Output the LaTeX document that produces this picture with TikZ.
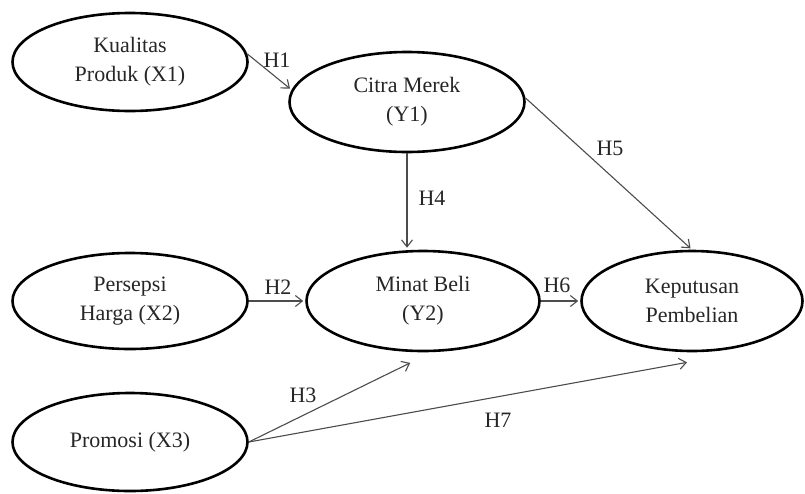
\documentclass[tikz,border=0pt]{standalone}
\usepackage{fontspec}
\setmainfont{Liberation Serif}
\usetikzlibrary{shapes.geometric,arrows.meta}
\begin{document}
\begin{tikzpicture}[x=1pt,y=-1pt,
  var/.style={ellipse, draw=black, line width=2.6pt, minimum width=235pt, minimum height=98pt,
    inner sep=0pt, align=center, font=\fontsize{22}{29}\selectfont, text=black!85},
  conn/.style={draw=black!70, line width=1.1pt, shorten >=2pt, -{Straight Barb[length=7pt,width=11pt]}},
  lbl/.style={font=\fontsize{22}{24}\selectfont, text=black!85, inner sep=0pt}]
\useasboundingbox (0,0) rectangle (805,493);
\node[var] (X1) at (130,62) {Kualitas\\Produk (X1)};
\node[var, minimum height=100pt] (Y1) at (407,102) {Citra Merek\\(Y1)};
\node[var, minimum height=96pt] (X2) at (130,301) {Persepsi\\Harga (X2)};
\node[var, minimum width=233pt, minimum height=100pt] (Y2) at (423,301) {Minat Beli\\(Y2)};
\node[var, minimum width=221pt, minimum height=100pt] (Z) at (692,301) {Keputusan\\Pembelian};
\node[var] (X3) at (130,442) {Promosi (X3)};
\coordinate (h3end) at (412,362);
\coordinate (h7end) at (689,362);
\draw[conn] (X1.4) -- (Y1.174);
\draw[conn] (X2.east) -- (Y2.west);
\draw[conn] (X3.east) -- (h3end);
\draw[conn] (X3.east) -- (h7end);
\draw[conn] (Y1.south) -- (Y1.south |- Y2.north);
\draw[conn] (Y1.2) -- (Z.north);
\draw[conn] (Y2.east) -- (Z.west);
\node[lbl] (l1) at (277,60) {H1};
\node[lbl] (l2) at (278,287) {H2};
\node[lbl] (l3) at (303,395) {H3};
\node[lbl] (l4) at (432,198) {H4};
\node[lbl] (l5) at (610,148) {H5};
\node[lbl] (l6) at (557,285) {H6};
\node[lbl] (l7) at (498,420) {H7};
\end{tikzpicture}
\end{document}
